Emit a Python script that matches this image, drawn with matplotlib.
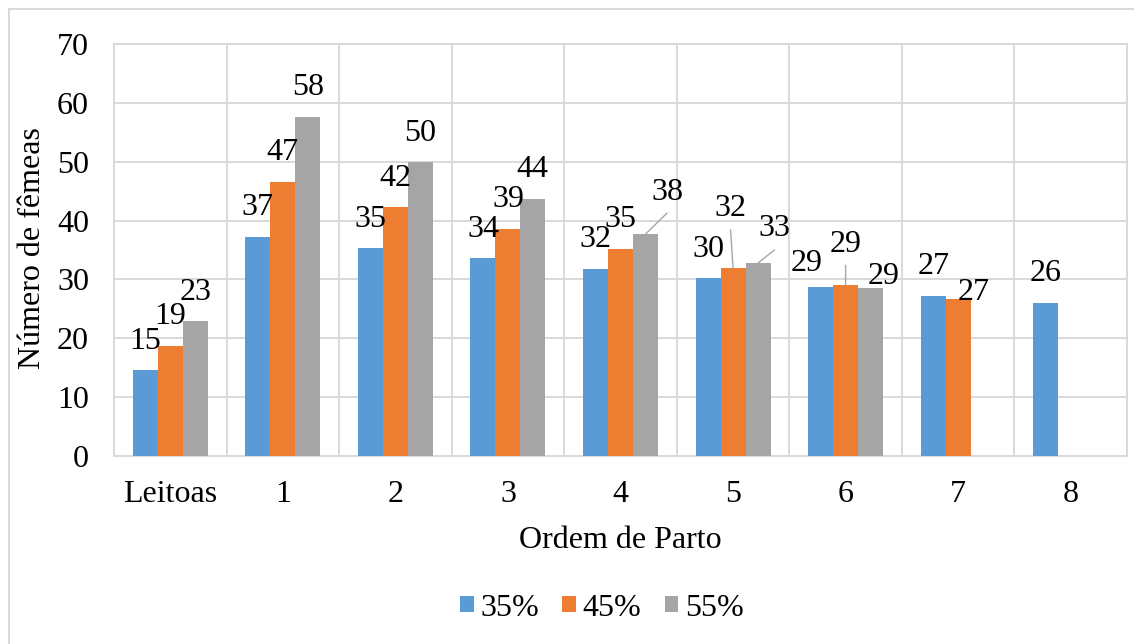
import numpy as np
import matplotlib
matplotlib.use("Agg")
import matplotlib.pyplot as plt
from matplotlib.lines import Line2D
from matplotlib.patches import Patch

plt.rcParams['font.family'] = ['Liberation Serif', 'DejaVu Serif']

# Data
categories = ['Leitoas', '1', '2', '3', '4', '5', '6', '7', '8']
series_names = ['35%', '45%', '55%']
serie_35 = [14.6, 37.2, 35.3, 33.6, 31.8, 30.2, 28.7, 27.2, 26.0]
serie_45 = [18.7, 46.6, 42.3, 38.6, 35.2, 31.9, 29.1, 26.6, np.nan]
serie_55 = [22.9, 57.6, 49.9, 43.6, 37.7, 32.8, 28.6, np.nan, np.nan]
y_ticks = [0, 10, 20, 30, 40, 50, 60, 70]

colors = ['#5B9BD5', '#ED7D31', '#A5A5A5']
grid_color = '#D9D9D9'
FS = 23

W, H = 1134, 644
fig = plt.figure(figsize=(W / 100, H / 100), dpi=100)

# chart-area border (left and top edges visible)
fig.add_artist(Line2D([8.5 / W, 8.5 / W], [0, 1 - 8.5 / H], transform=fig.transFigure,
                      color=grid_color, lw=1.4))
fig.add_artist(Line2D([8.5 / W, 1], [1 - 8.5 / H, 1 - 8.5 / H], transform=fig.transFigure,
                      color=grid_color, lw=1.4))

left, right, top, bottom = 114, 1127, 44, 456
ax = fig.add_axes([left / W, 1 - bottom / H, (right - left) / W, (bottom - top) / H])

x = np.arange(len(categories))
bw = 0.222
offsets = [-bw, 0, bw]
all_series = [serie_35, serie_45, serie_55]

# label placement: pixel offsets of label centre from bar top (dx, dy up), and leader lines
label_pos = {
    (1, 0): (0, 30), (3, 2): (-1, 30),
    (4, 2): (21.5, 42), (5, 1): (-2.5, 59.5), (5, 2): (16.5, 34),
    (6, 0): (-13.5, 23.5), (6, 1): (0, 40.5), (6, 2): (13, 11),
    (7, 1): (15.5, 6.5),
}
leaders = {(4, 2), (5, 1), (5, 2), (6, 1)}

for s, (vals, off, c) in enumerate(zip(all_series, offsets, colors)):
    vals = np.asarray(vals, dtype=float)
    mask = ~np.isnan(vals)
    ax.bar(x[mask] + off, vals[mask], width=bw, color=c, linewidth=0, zorder=3)
    for i in np.where(mask)[0]:
        v = vals[i]
        dx, dy = label_pos.get((i, s), (0, 29))
        ax.annotate(f"{v:.0f}", xy=(x[i] + off, v), xytext=(dx, dy),
                    textcoords='offset pixels', ha='center', va='center',
                    fontsize=FS, color='black', zorder=5)
        if (i, s) in leaders:
            ax.annotate('', xy=(x[i] + off, v), xytext=(dx, dy - 21),
                        textcoords='offset pixels',
                        arrowprops=dict(arrowstyle='-', color='#A6A6A6', lw=1.0,
                                        shrinkA=0, shrinkB=0), zorder=4)

ax.set_xlim(-0.5, len(categories) - 0.5)
ax.set_ylim(0, 70)
ax.set_yticks(y_ticks)
ax.set_xticks(x)
ax.set_xticklabels(categories)
ax.set_xticks(np.arange(len(categories) + 1) - 0.5, minor=True)
ax.tick_params(axis='both', which='both', length=0, labelsize=FS, colors='black')
ax.tick_params(axis='y', pad=18)
ax.tick_params(axis='x', pad=17)
ax.grid(axis='y', which='major', color=grid_color, lw=1.4, zorder=0)
ax.grid(axis='x', which='minor', color=grid_color, lw=1.4, zorder=0)
ax.grid(axis='x', which='major', visible=False)
for sp in ax.spines.values():
    sp.set_color(grid_color)
    sp.set_linewidth(1.4)

fig.text(620 / W, 1 - 540 / H, 'Ordem de Parto', ha='center', va='center', fontsize=FS)
fig.text(33 / W, 1 - 248 / H, 'Número de fêmeas', ha='center', va='center',
         rotation=90, fontsize=FS)

handles = [Patch(facecolor=c, edgecolor='none') for c in colors]
fig.legend(handles, series_names, loc='center', bbox_to_anchor=(602 / W, 1 - 608 / H),
           ncol=3, frameon=False, fontsize=FS, handlelength=0.42, handleheight=0.42,
           handletextpad=0.22, columnspacing=0.72, borderaxespad=0)

fig.savefig('out.png', dpi=100)
